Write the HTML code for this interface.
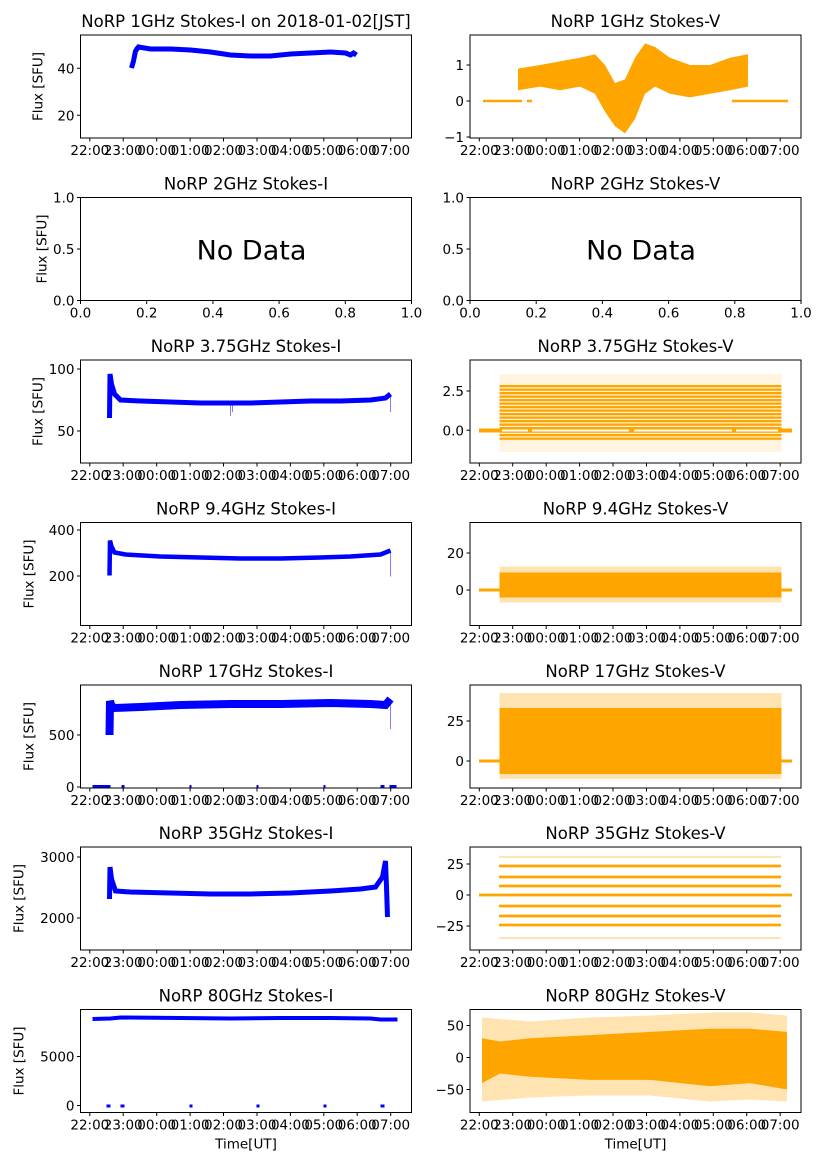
<!DOCTYPE html>
<html><head><meta charset="utf-8"><style>
html,body{margin:0;padding:0;background:#fff}
svg{display:block;font-family:"DejaVu Sans","Liberation Sans",sans-serif}
.t{font-size:16.5px;text-anchor:middle}
.k{font-size:13.5px}
.xt text{text-anchor:middle}
.yt text{text-anchor:end}
.ax{fill:none;stroke:#000;stroke-width:1}
.tk{stroke:#000;stroke-width:1}
</style></head><body>
<svg width="827" height="1169" viewBox="0 0 827 1169" xmlns="http://www.w3.org/2000/svg">

<!-- ROW 1 LEFT -->
<g transform="translate(80.5,35)">
<text class="t" x="165.5" y="-8">NoRP 1GHz Stokes-I on 2018-01-02[JST]</text>
<polyline points="51,33 53,26 55,16 58,12 70,14 90,14 110,15 130,17 150,20 170,21 190,21 210,19 230,18 250,17 265,18 270,20 273,18 276,20" fill="none" stroke="#00f" stroke-width="5"/>
<path d="M51,33 L56,12" stroke="#00f" stroke-width="3"/>
<rect class="ax" x="0" y="0" width="331" height="103"/>
<g class="k yt"><path class="tk" d="M0 33.3h-3.5M0 80.3h-3.5"/><text x="-6" y="38.3">40</text><text x="-6" y="85.3">20</text></g>
<g class="k xt"><path class="tk" d="M9.3 103v3.5M42.7 103v3.5M76.2 103v3.5M109.6 103v3.5M143 103v3.5M176.5 103v3.5M209.9 103v3.5M243.3 103v3.5M276.7 103v3.5M310.2 103v3.5"/>
<text x="9.3" y="120">22:00</text><text x="42.7" y="120">23:00</text><text x="76.2" y="120">00:00</text><text x="109.6" y="120">01:00</text><text x="143" y="120">02:00</text><text x="176.5" y="120">03:00</text><text x="209.9" y="120">04:00</text><text x="243.3" y="120">05:00</text><text x="276.7" y="120">06:00</text><text x="310.2" y="120">07:00</text></g>
<text class="k" transform="translate(-38,51.5) rotate(-90)" text-anchor="middle">Flux [SFU]</text>
</g>

<!-- ROW 1 RIGHT -->
<g transform="translate(470,35)">
<text class="t" x="165.5" y="-8">NoRP 1GHz Stokes-V</text>
<path d="M13 66H52M57 66H62M262 66H318" stroke="#ffa500" stroke-width="2.5"/>
<polygon fill="#ffa500" points="48,33.6 70,30 90,26.4 110,22.8 125,19.2 135,30 145,48 155,44.4 165,22.8 175,8.4 185,12 200,22.8 220,30 240,30 260,22.8 278,19.2 278,51.6 260,55.2 240,58.8 220,62.4 200,58.8 185,51.6 175,58.8 165,84 155,98.4 145,91.2 135,76.8 125,58.8 110,51.6 90,55.2 70,51.6 48,55.2"/>
<rect class="ax" x="0" y="0" width="331" height="103"/>
<g class="k yt"><path class="tk" d="M0 30h-3.5M0 66h-3.5M0 102h-3.5"/><text x="-6" y="35">1</text><text x="-6" y="71">0</text><text x="-6" y="107">−1</text></g>
<g class="k xt"><path class="tk" d="M9.3 103v3.5M42.7 103v3.5M76.2 103v3.5M109.6 103v3.5M143 103v3.5M176.5 103v3.5M209.9 103v3.5M243.3 103v3.5M276.7 103v3.5M310.2 103v3.5"/>
<text x="9.3" y="120">22:00</text><text x="42.7" y="120">23:00</text><text x="76.2" y="120">00:00</text><text x="109.6" y="120">01:00</text><text x="143" y="120">02:00</text><text x="176.5" y="120">03:00</text><text x="209.9" y="120">04:00</text><text x="243.3" y="120">05:00</text><text x="276.7" y="120">06:00</text><text x="310.2" y="120">07:00</text></g>
</g>

<!-- ROW 2 LEFT -->
<g transform="translate(80.5,197.5)">
<text class="t" x="165.5" y="-8">NoRP 2GHz Stokes-I</text>
<text x="171" y="62" text-anchor="middle" font-size="27">No Data</text>
<rect class="ax" x="0" y="0" width="331" height="103"/>
<g class="k yt"><path class="tk" d="M0 0h-3.5M0 51.5h-3.5M0 103h-3.5"/><text x="-6" y="5">1.0</text><text x="-6" y="56.5">0.5</text><text x="-6" y="108">0.0</text></g>
<g class="k xt"><path class="tk" d="M0 103v3.5M66.2 103v3.5M132.4 103v3.5M198.6 103v3.5M264.8 103v3.5M331 103v3.5"/>
<text x="0" y="120">0.0</text><text x="66.2" y="120">0.2</text><text x="132.4" y="120">0.4</text><text x="198.6" y="120">0.6</text><text x="264.8" y="120">0.8</text><text x="331" y="120">1.0</text></g>
<text class="k" transform="translate(-34,51.5) rotate(-90)" text-anchor="middle">Flux [SFU]</text>
</g>

<!-- ROW 2 RIGHT -->
<g transform="translate(470,197.5)">
<text class="t" x="165.5" y="-8">NoRP 2GHz Stokes-V</text>
<text x="171" y="62" text-anchor="middle" font-size="27">No Data</text>
<rect class="ax" x="0" y="0" width="331" height="103"/>
<g class="k yt"><path class="tk" d="M0 0h-3.5M0 51.5h-3.5M0 103h-3.5"/><text x="-6" y="5">1.0</text><text x="-6" y="56.5">0.5</text><text x="-6" y="108">0.0</text></g>
<g class="k xt"><path class="tk" d="M0 103v3.5M66.2 103v3.5M132.4 103v3.5M198.6 103v3.5M264.8 103v3.5M331 103v3.5"/>
<text x="0" y="120">0.0</text><text x="66.2" y="120">0.2</text><text x="132.4" y="120">0.4</text><text x="198.6" y="120">0.6</text><text x="264.8" y="120">0.8</text><text x="331" y="120">1.0</text></g>
</g>

<!-- ROW 3 LEFT -->
<g transform="translate(80.5,360)">
<text class="t" x="165.5" y="-8">NoRP 3.75GHz Stokes-I</text>
<polyline points="29,58 29.5,14 31,24 34,34 40,40 60,41 90,42 120,43 150,43 170,43 200,42 230,41 260,41 290,40 305,38 310,34" fill="none" stroke="#00f" stroke-width="5"/>
<path d="M150 42V56M152 42V52M310 34V52" stroke="#00f" stroke-width="1" opacity="0.5"/>
<rect class="ax" x="0" y="0" width="331" height="103"/>
<g class="k yt"><path class="tk" d="M0 9h-3.5M0 71h-3.5"/><text x="-6" y="14">100</text><text x="-6" y="76">50</text></g>
<g class="k xt"><path class="tk" d="M9.3 103v3.5M42.7 103v3.5M76.2 103v3.5M109.6 103v3.5M143 103v3.5M176.5 103v3.5M209.9 103v3.5M243.3 103v3.5M276.7 103v3.5M310.2 103v3.5"/>
<text x="9.3" y="120">22:00</text><text x="42.7" y="120">23:00</text><text x="76.2" y="120">00:00</text><text x="109.6" y="120">01:00</text><text x="143" y="120">02:00</text><text x="176.5" y="120">03:00</text><text x="209.9" y="120">04:00</text><text x="243.3" y="120">05:00</text><text x="276.7" y="120">06:00</text><text x="310.2" y="120">07:00</text></g>
<text class="k" transform="translate(-38,51.5) rotate(-90)" text-anchor="middle">Flux [SFU]</text>
</g>

<!-- ROW 3 RIGHT -->
<g transform="translate(470,360)">
<defs><pattern id="st" x="0" y="0.5" width="10" height="3.5" patternUnits="userSpaceOnUse"><rect width="10" height="2.3" fill="#ffa500"/></pattern></defs>
<text class="t" x="165.5" y="-8">NoRP 3.75GHz Stokes-V</text>
<rect x="29.5" y="14" width="282" height="78" fill="#ffa500" opacity="0.12"/>
<rect x="29.5" y="25" width="282" height="55" fill="url(#st)"/>
<rect x="9" y="68.5" width="313" height="4" fill="#ffa500"/>
<rect x="32" y="69.5" width="26" height="2" fill="#fff"/><rect x="62" y="69.5" width="97" height="2" fill="#fff"/><rect x="164" y="69.5" width="98" height="2" fill="#fff"/><rect x="266" y="69.5" width="42" height="2" fill="#fff"/>
<rect class="ax" x="0" y="0" width="331" height="103"/>
<g class="k yt"><path class="tk" d="M0 31h-3.5M0 70.3h-3.5"/><text x="-6" y="36">2.5</text><text x="-6" y="75.3">0.0</text></g>
<g class="k xt"><path class="tk" d="M9.3 103v3.5M42.7 103v3.5M76.2 103v3.5M109.6 103v3.5M143 103v3.5M176.5 103v3.5M209.9 103v3.5M243.3 103v3.5M276.7 103v3.5M310.2 103v3.5"/>
<text x="9.3" y="120">22:00</text><text x="42.7" y="120">23:00</text><text x="76.2" y="120">00:00</text><text x="109.6" y="120">01:00</text><text x="143" y="120">02:00</text><text x="176.5" y="120">03:00</text><text x="209.9" y="120">04:00</text><text x="243.3" y="120">05:00</text><text x="276.7" y="120">06:00</text><text x="310.2" y="120">07:00</text></g>
</g>

<!-- ROW 4 LEFT -->
<g transform="translate(80.5,522.5)">
<text class="t" x="165.5" y="-8">NoRP 9.4GHz Stokes-I</text>
<polyline points="29,53 29.5,18 31,24 34,30 45,32 80,34 120,35 160,36 200,36 240,35 270,34 300,32 310,28" fill="none" stroke="#00f" stroke-width="4.5"/>
<path d="M310 28V54" stroke="#00f" stroke-width="1" opacity="0.5"/>
<rect class="ax" x="0" y="0" width="331" height="103"/>
<g class="k yt"><path class="tk" d="M0 7.5h-3.5M0 53.5h-3.5"/><text x="-6" y="12.5">400</text><text x="-6" y="58.5">200</text></g>
<g class="k xt"><path class="tk" d="M9.3 103v3.5M42.7 103v3.5M76.2 103v3.5M109.6 103v3.5M143 103v3.5M176.5 103v3.5M209.9 103v3.5M243.3 103v3.5M276.7 103v3.5M310.2 103v3.5"/>
<text x="9.3" y="120">22:00</text><text x="42.7" y="120">23:00</text><text x="76.2" y="120">00:00</text><text x="109.6" y="120">01:00</text><text x="143" y="120">02:00</text><text x="176.5" y="120">03:00</text><text x="209.9" y="120">04:00</text><text x="243.3" y="120">05:00</text><text x="276.7" y="120">06:00</text><text x="310.2" y="120">07:00</text></g>
<text class="k" transform="translate(-47,51.5) rotate(-90)" text-anchor="middle">Flux [SFU]</text>
</g>

<!-- ROW 4 RIGHT -->
<g transform="translate(470,522.5)">
<text class="t" x="165.5" y="-8">NoRP 9.4GHz Stokes-V</text>
<rect x="29.5" y="44" width="282" height="36" fill="#ffa500" opacity="0.3"/>
<rect x="29.5" y="50" width="282" height="25" fill="#ffa500"/>
<rect x="9" y="66" width="313" height="3" fill="#ffa500"/>
<rect class="ax" x="0" y="0" width="331" height="103"/>
<g class="k yt"><path class="tk" d="M0 30.5h-3.5M0 67.5h-3.5"/><text x="-6" y="35.5">20</text><text x="-6" y="72.5">0</text></g>
<g class="k xt"><path class="tk" d="M9.3 103v3.5M42.7 103v3.5M76.2 103v3.5M109.6 103v3.5M143 103v3.5M176.5 103v3.5M209.9 103v3.5M243.3 103v3.5M276.7 103v3.5M310.2 103v3.5"/>
<text x="9.3" y="120">22:00</text><text x="42.7" y="120">23:00</text><text x="76.2" y="120">00:00</text><text x="109.6" y="120">01:00</text><text x="143" y="120">02:00</text><text x="176.5" y="120">03:00</text><text x="209.9" y="120">04:00</text><text x="243.3" y="120">05:00</text><text x="276.7" y="120">06:00</text><text x="310.2" y="120">07:00</text></g>
</g>

<!-- ROW 5 LEFT -->
<g transform="translate(80.5,685)">
<text class="t" x="165.5" y="-8">NoRP 17GHz Stokes-I</text>
<polyline points="29,50 29.5,16 31,21 34,23 60,22 100,20 150,19 200,19 250,18 290,19 305,20 310,14" fill="none" stroke="#00f" stroke-width="8"/>
<path d="M310 14V44" stroke="#00f" stroke-width="1" opacity="0.5"/>
<path d="M12 101.5H30M41 101.5H44M109 101.5H111M176 101.5H178M243 101.5H245M300 101.5H304M309 101.5H316" stroke="#00f" stroke-width="3"/>
<rect class="ax" x="0" y="0" width="331" height="103"/>
<g class="k yt"><path class="tk" d="M0 50h-3.5M0 102h-3.5"/><text x="-6" y="55">500</text><text x="-6" y="107">0</text></g>
<g class="k xt"><path class="tk" d="M9.3 103v3.5M42.7 103v3.5M76.2 103v3.5M109.6 103v3.5M143 103v3.5M176.5 103v3.5M209.9 103v3.5M243.3 103v3.5M276.7 103v3.5M310.2 103v3.5"/>
<text x="9.3" y="120">22:00</text><text x="42.7" y="120">23:00</text><text x="76.2" y="120">00:00</text><text x="109.6" y="120">01:00</text><text x="143" y="120">02:00</text><text x="176.5" y="120">03:00</text><text x="209.9" y="120">04:00</text><text x="243.3" y="120">05:00</text><text x="276.7" y="120">06:00</text><text x="310.2" y="120">07:00</text></g>
<text class="k" transform="translate(-47,51.5) rotate(-90)" text-anchor="middle">Flux [SFU]</text>
</g>

<!-- ROW 5 RIGHT -->
<g transform="translate(470,685)">
<text class="t" x="165.5" y="-8">NoRP 17GHz Stokes-V</text>
<rect x="29.5" y="8" width="282" height="86" fill="#ffa500" opacity="0.3"/>
<rect x="29.5" y="23" width="282" height="66" fill="#ffa500"/>
<rect x="9" y="74.5" width="313" height="3" fill="#ffa500"/>
<rect class="ax" x="0" y="0" width="331" height="103"/>
<g class="k yt"><path class="tk" d="M0 36h-3.5M0 76h-3.5"/><text x="-6" y="41">25</text><text x="-6" y="81">0</text></g>
<g class="k xt"><path class="tk" d="M9.3 103v3.5M42.7 103v3.5M76.2 103v3.5M109.6 103v3.5M143 103v3.5M176.5 103v3.5M209.9 103v3.5M243.3 103v3.5M276.7 103v3.5M310.2 103v3.5"/>
<text x="9.3" y="120">22:00</text><text x="42.7" y="120">23:00</text><text x="76.2" y="120">00:00</text><text x="109.6" y="120">01:00</text><text x="143" y="120">02:00</text><text x="176.5" y="120">03:00</text><text x="209.9" y="120">04:00</text><text x="243.3" y="120">05:00</text><text x="276.7" y="120">06:00</text><text x="310.2" y="120">07:00</text></g>
</g>

<!-- ROW 6 LEFT -->
<g transform="translate(80.5,847)">
<text class="t" x="165.5" y="-8">NoRP 35GHz Stokes-I</text>
<polyline points="29,52 29.5,20 31,32 35,44 50,45 90,46 130,47 170,47 210,46 250,44 280,42 295,40 302,30 305,14 306,40 307,70" fill="none" stroke="#00f" stroke-width="5"/>
<rect class="ax" x="0" y="0" width="331" height="103"/>
<g class="k yt"><path class="tk" d="M0 10h-3.5M0 71h-3.5"/><text x="-6" y="15">3000</text><text x="-6" y="76">2000</text></g>
<g class="k xt"><path class="tk" d="M9.3 103v3.5M42.7 103v3.5M76.2 103v3.5M109.6 103v3.5M143 103v3.5M176.5 103v3.5M209.9 103v3.5M243.3 103v3.5M276.7 103v3.5M310.2 103v3.5"/>
<text x="9.3" y="120">22:00</text><text x="42.7" y="120">23:00</text><text x="76.2" y="120">00:00</text><text x="109.6" y="120">01:00</text><text x="143" y="120">02:00</text><text x="176.5" y="120">03:00</text><text x="209.9" y="120">04:00</text><text x="243.3" y="120">05:00</text><text x="276.7" y="120">06:00</text><text x="310.2" y="120">07:00</text></g>
<text class="k" transform="translate(-57,51.5) rotate(-90)" text-anchor="middle">Flux [SFU]</text>
</g>

<!-- ROW 6 RIGHT -->
<g transform="translate(470,847)">
<text class="t" x="165.5" y="-8">NoRP 35GHz Stokes-V</text>
<path d="M29 10H311M29 91H311" stroke="#ffa500" stroke-width="1.5" opacity="0.4"/>
<path d="M29 19H311M29 30H311M29 39H311M29 59H311M29 69H311M29 78H311M9 48H322" stroke="#ffa500" stroke-width="2.8"/>
<rect class="ax" x="0" y="0" width="331" height="103"/>
<g class="k yt"><path class="tk" d="M0 17h-3.5M0 48h-3.5M0 79h-3.5"/><text x="-6" y="22">25</text><text x="-6" y="53">0</text><text x="-6" y="84">−25</text></g>
<g class="k xt"><path class="tk" d="M9.3 103v3.5M42.7 103v3.5M76.2 103v3.5M109.6 103v3.5M143 103v3.5M176.5 103v3.5M209.9 103v3.5M243.3 103v3.5M276.7 103v3.5M310.2 103v3.5"/>
<text x="9.3" y="120">22:00</text><text x="42.7" y="120">23:00</text><text x="76.2" y="120">00:00</text><text x="109.6" y="120">01:00</text><text x="143" y="120">02:00</text><text x="176.5" y="120">03:00</text><text x="209.9" y="120">04:00</text><text x="243.3" y="120">05:00</text><text x="276.7" y="120">06:00</text><text x="310.2" y="120">07:00</text></g>
</g>

<!-- ROW 7 LEFT -->
<g transform="translate(80.5,1009.5)">
<text class="t" x="165.5" y="-8">NoRP 80GHz Stokes-I</text>
<polyline points="12,9.5 30,9 40,8 100,8.5 150,9 200,8.5 250,8.5 290,9 300,10 317,10" fill="none" stroke="#00f" stroke-width="4"/>
<path d="M26 96.5H30M40 96.5H44M109 96.5H112M176 96.5H179M243 96.5H246M300 96.5H304" stroke="#00f" stroke-width="3"/>
<rect class="ax" x="0" y="0" width="331" height="103"/>
<g class="k yt"><path class="tk" d="M0 47h-3.5M0 96h-3.5"/><text x="-6" y="52">5000</text><text x="-6" y="101">0</text></g>
<g class="k xt"><path class="tk" d="M9.3 103v3.5M42.7 103v3.5M76.2 103v3.5M109.6 103v3.5M143 103v3.5M176.5 103v3.5M209.9 103v3.5M243.3 103v3.5M276.7 103v3.5M310.2 103v3.5"/>
<text x="9.3" y="120">22:00</text><text x="42.7" y="120">23:00</text><text x="76.2" y="120">00:00</text><text x="109.6" y="120">01:00</text><text x="143" y="120">02:00</text><text x="176.5" y="120">03:00</text><text x="209.9" y="120">04:00</text><text x="243.3" y="120">05:00</text><text x="276.7" y="120">06:00</text><text x="310.2" y="120">07:00</text></g>
<text class="k" x="165.5" y="139" text-anchor="middle">Time[UT]</text>
<text class="k" transform="translate(-57,51.5) rotate(-90)" text-anchor="middle">Flux [SFU]</text>
</g>

<!-- ROW 7 RIGHT -->
<g transform="translate(470,1009.5)">
<text class="t" x="165.5" y="-8">NoRP 80GHz Stokes-V</text>
<polygon fill="#ffa500" opacity="0.3" points="12,8 60,12 120,8 180,6 240,3 280,3 317,6 317,92 280,90 240,92 180,86 120,86 60,88 12,92"/>
<polygon fill="#ffa500" points="12,28.8 30,32 60,28.8 120,25.6 180,22.4 240,19.2 280,19.2 317,22.4 317,80 280,73.6 240,76.8 180,70.4 120,70.4 60,67.2 30,64 12,73.6"/>
<rect class="ax" x="0" y="0" width="331" height="103"/>
<g class="k yt"><path class="tk" d="M0 16h-3.5M0 48h-3.5M0 80h-3.5"/><text x="-6" y="21">50</text><text x="-6" y="53">0</text><text x="-6" y="85">−50</text></g>
<g class="k xt"><path class="tk" d="M9.3 103v3.5M42.7 103v3.5M76.2 103v3.5M109.6 103v3.5M143 103v3.5M176.5 103v3.5M209.9 103v3.5M243.3 103v3.5M276.7 103v3.5M310.2 103v3.5"/>
<text x="9.3" y="120">22:00</text><text x="42.7" y="120">23:00</text><text x="76.2" y="120">00:00</text><text x="109.6" y="120">01:00</text><text x="143" y="120">02:00</text><text x="176.5" y="120">03:00</text><text x="209.9" y="120">04:00</text><text x="243.3" y="120">05:00</text><text x="276.7" y="120">06:00</text><text x="310.2" y="120">07:00</text></g>
<text class="k" x="165.5" y="139" text-anchor="middle">Time[UT]</text>
</g>
</svg>
</body></html>
